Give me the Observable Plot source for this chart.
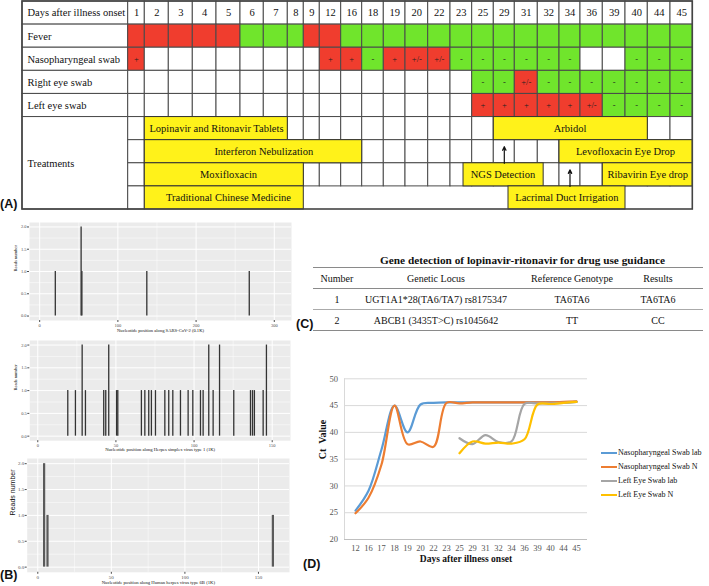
<!DOCTYPE html>
<html><head><meta charset="utf-8">
<script src="https://cdn.jsdelivr.net/npm/d3@7"></script>
<script src="https://cdn.jsdelivr.net/npm/@observablehq/plot@0.6"></script>
<style>
body{margin:0;background:#fff;}
#root{position:relative;width:709px;height:586px;overflow:hidden;font-family:"Liberation Serif","Times New Roman",serif;color:#111;}
.plab{position:absolute;font:bold 12.5px "Liberation Sans",Arial,sans-serif;line-height:1;color:#111;}
#tblC{position:absolute;border-collapse:collapse;table-layout:fixed;font-size:10px;}
#tblC td{text-align:center;padding:0;height:20px;white-space:nowrap;}
#legD{position:absolute;font-size:8px;line-height:14px;}
#legD .it{display:flex;align-items:center;height:14px;}
#legD .ln{width:16px;height:2px;margin-right:1px;}
</style></head><body><div id="root"></div>
<script>
// ---------------- DATA ----------------
// (A) clinical course table
const days = [1,2,3,4,5,6,7,8,9,12,16,18,19,20,22,23,25,29,31,32,34,36,39,40,44,45];
const rowLabels = ["Days after illness onset","Fever","Nasopharyngeal swab","Right eye swab","Left eye swab"];
const treatmentLabel = "Treatments";
const fever    = ["+","+","+","+","+","-","-","-","+","+","-","-","-","-","-","-","-","-","-","-","-","-","-","-","-","-"];
const nasoSwab = ["+","","","","","","","","","+","+","-","+","+/-","+/-","-","-","-","-","-","-","","","-","-","-"];
const rightEye = ["","","","","","","","","","","","","","","","","-","-","+/-","-","-","-","-","-","-","-"];
const leftEye  = ["","","","","","","","","","","","","","","","","+","+","+","+","+","+/-","-","-","-","-"];
const treatNames = ["Lopinavir and Ritonavir Tablets","Interferon Nebulization","Moxifloxacin","Traditional Chinese Medicine","Arbidol","Levofloxacin Eye Drop","NGS Detection","Ribavirin Eye drop","Lacrimal Duct Irrigation"];
const treatLine  = [1,2,3,4,1,2,3,3,4];
const treatFrom  = [2,2,2,2,29,34,23,39,29];
const treatTo    = [7,16,8,8,40,45,32,45,39];
const treatFromPart = [0,0,0,0,0,0,0.6,0,0.7];
const treatToPart   = [1,1,1,1,1,1,0.27,1,1];
const arrowDays  = [29,34];
const arrowLines = [2,3];

// (B) NGS reads
const sarsPos   = [20,53,54,137,268];
const sarsReads = [1,2,1,1,1];
const hsvPos   = [19.2,24.1,28.4,30.5,42.2,43.5,45.4,50.4,51.2,66.3,68.5,71,72.7,75.3,81.3,83.8,86.4,91.3,96.2,99.2,104.1,105.8,109.4,112.2,116.3,125.4,136.1,137.4,138.6,144.2,146.3];
const hsvReads = [1,1,2,1,1,1,2,1,1,1,1,1,1,1,1,1,1,1,1,1,1,1,2,1,2,1,1,1,1,1,2];
const hhvPos   = [4.3,6.6,159.8];
const hhvReads = [2,1,1];

// (C) gene detection table
const cTitle = "Gene detection of lopinavir-ritonavir for drug use guidance";
const cColumns = ["Number","Genetic Locus","Reference Genotype","Results"];
const cNumber = ["1","2"];
const cLocus = ["UGT1A1*28(TA6/TA7) rs8175347","ABCB1 (3435T>C) rs1045642"];
const cReference = ["TA6TA6","TT"];
const cResults = ["TA6TA6","CC"];

// (D) Ct values
const ctDays = ["12","16","17","18","19","20","22","23","25","29","31","32","34","36","39","40","44","45"];
const nasoLab = [25.4,29.1,36.8,45.0,40.0,45.2,45.5,45.6,45.6,45.6,45.6,45.6,45.6,45.6,45.6,45.6,45.6,45.7];
const nasoN   = [24.9,27.8,34.0,45.0,37.8,38.3,37.3,45.5,45.4,45.6,45.6,45.6,45.6,45.6,45.6,45.6,45.7,45.8];
const eyeLab  = [null,null,null,null,null,null,null,null,38.9,37.8,39.5,38.2,38.3,45.3,45.4,45.4,45.5,45.7];
const eyeN    = [null,null,null,null,null,null,null,null,36.1,38.3,37.9,38.1,37.9,38.7,45.2,45.3,45.5,45.7];
const seriesNames = ["Nasopharyngeal Swab lab","Nasopharyngeal Swab N","Left Eye Swab lab","Left Eye Swab N"];
const seriesColors = ["#5b9bd5","#ed7d31","#a5a5a5","#ffc000"];
const ctTicks = [20,25,30,35,40,45,50];

// ---------------- LAYOUT / STYLE ----------------
const RED = "#f03d2e", GREEN = "#70e52c", YELLOW = "#fff21a", GRID = "#4a4a4a";
const colEdges = [22,127.7,144.3,168.3,192.3,216,240,263.3,287.3,303.3,319.3,340.7,361.7,383.3,405,427.7,450,471.7,493.3,514.3,537.3,559,580,602.3,625,647.3,670,692.3];
const root = document.getElementById("root");
function place(el, left, top){ el.style.position="absolute"; el.style.left=left+"px"; el.style.top=top+"px"; root.appendChild(el); return el; }
function label(txt, left, top){ const d=document.createElement("div"); d.className="plab"; d.textContent=txt; place(d,left,top); }

// ---------------- (A) ----------------
const statusRows = [null, fever, nasoSwab, rightEye, leftEye];
const colorOf = s => s === "" ? "white" : (s === "-" ? GREEN : RED);
const cells = [];
rowLabels.forEach((lab, r) => {
  cells.push({x1:0,x2:1,y1:r,y2:r+1,fill:"white",label:lab});
  days.forEach((d,i)=>{
    let fill="white", text="", head=false;
    if (r===0){ text=String(d); head=true; }
    else { const s=statusRows[r][i]; fill=colorOf(s); text = r===1 ? "" : s; }
    cells.push({x1:i+1,x2:i+2,y1:r,y2:r+1,fill,text,head});
  });
});
const tStart = rowLabels.length, nLines = 4;
cells.push({x1:0,x2:1,y1:tStart,y2:tStart+nLines,fill:"white",label:treatmentLabel});
for (let l=0;l<nLines;l++){
  const n = l < nLines-1 ? days.length : 1;
  for (let i=0;i<n;i++) cells.push({x1:i+1,x2:i+2,y1:tStart+l,y2:tStart+l+1,fill:"white",text:""});
}
const col = d => days.indexOf(d) + 1;
const bars = treatNames.map((name,k)=>({name,
  x1: col(treatFrom[k]) + treatFromPart[k], x2: col(treatTo[k]) + treatToPart[k],
  y1: tStart + treatLine[k] - 1, y2: tStart + treatLine[k]}));
const arrows = arrowDays.map((d,k)=>({x: col(d)+0.5, yb: tStart+arrowLines[k], yt: tStart+arrowLines[k]-0.72}));
const outline = [{x1:0, x2:colEdges.length-1, y1:0, y2:tStart+nLines}];

const plotA = Plot.plot({
  width:709, height:212, margin:0,
  x:{type:"linear", domain:d3.range(colEdges.length), range:colEdges, axis:null},
  y:{type:"linear", domain:[0,tStart+nLines], range:[1,209], axis:null},
  color:{type:"identity"},
  style:{fontFamily:'"Liberation Serif","Times New Roman",serif', fontSize:"10.5px", background:"transparent", overflow:"visible"},
  marks:[
    Plot.rect(cells,{x1:"x1",x2:"x2",y1:"y1",y2:"y2",fill:"fill",stroke:GRID,strokeWidth:1}),
    Plot.text(cells.filter(d=>d.label),{x:"x1",y:d=>(d.y1+d.y2)/2,text:"label",textAnchor:"start",dx:5,fill:"#111"}),
    Plot.text(cells.filter(d=>d.head),{x:d=>(d.x1+d.x2)/2,y:d=>(d.y1+d.y2)/2,text:"text",fill:"#111"}),
    Plot.text(cells.filter(d=>!d.head && d.text),{x:d=>(d.x1+d.x2)/2,y:d=>(d.y1+d.y2)/2,text:"text",fontSize:8.5,fill:"#222"}),
    Plot.rect(bars,{x1:"x1",x2:"x2",y1:"y1",y2:"y2",fill:YELLOW,stroke:"#333",strokeWidth:1}),
    Plot.text(bars,{x:d=>(d.x1+d.x2)/2,y:d=>(d.y1+d.y2)/2,text:"name",fill:"#111"}),
    Plot.arrow(arrows,{x1:"x",x2:"x",y1:"yb",y2:"yt",stroke:"#111",strokeWidth:1.2,headLength:5,headAngle:50}),
    Plot.rect(outline,{x1:"x1",x2:"x2",y1:"y1",y2:"y2",fill:"none",stroke:"#444",strokeWidth:1.6})
  ]
});
place(plotA,0,0);
label("(A)",0,198);

// ---------------- (B) ----------------
function ngsPlot(pos, reads, o){
  const data = pos.map((p,i)=>({p, r:reads[i]}));
  return Plot.plot({
    width:o.width, height:o.height, marginLeft:o.ml, marginRight:o.mr, marginTop:4, marginBottom:o.mb,
    x:{domain:o.xdom}, y:{domain:[-0.1,2.1]},
    style:{fontFamily:'"Liberation Serif","Times New Roman",serif', background:"transparent"},
    marks:[
      Plot.frame({fill:"#ebebeb", stroke:null}),
      Plot.gridX(o.xminor,{stroke:"white",strokeOpacity:1,strokeWidth:0.5}),
      Plot.gridY([0.25,0.75,1.25,1.75],{stroke:"white",strokeOpacity:1,strokeWidth:0.5}),
      Plot.gridX(o.xmajor,{stroke:"white",strokeOpacity:1,strokeWidth:1}),
      Plot.gridY([0,0.5,1,1.5,2],{stroke:"white",strokeOpacity:1,strokeWidth:1}),
      Plot.ruleX(data,{x:"p",y1:0,y2:"r",stroke:o.bar,strokeWidth:o.bw}),
      Plot.axisX(o.xmajor,{tickSize:2,tickPadding:1,fontSize:o.fs,color:"#4d4d4d",label:null}),
      Plot.axisY([0,0.5,1,1.5,2],{tickSize:2,tickPadding:1,fontSize:o.fs,color:"#4d4d4d",tickFormat:d=>d.toFixed(1),label:null}),
      Plot.text([o.xlabel],{frameAnchor:"bottom",dy:o.xdy,fontSize:o.tfs,fill:"#111"}),
      Plot.text(["Reads number"],{frameAnchor:"left",rotate:-90,dx:o.ydx,fontSize:o.yfs,fill:"#111",fontFamily:o.yff})
    ]
  });
}
place(ngsPlot(sarsPos,sarsReads,{width:295,height:118,ml:29,mr:4,mb:16,xdom:[-13,322],xmajor:[0,100,200,300],xminor:[50,150,250],bar:"#333",bw:1.3,fs:4.5,tfs:4.6,xdy:11,ydx:-14,yfs:4.6,yff:null,xlabel:"Nucleotide position along SARS-CoV-2 (0.1K)"}),0,218);
place(ngsPlot(hsvPos,hsvReads,{width:295,height:120,ml:29.3,mr:5,mb:15.8,xdom:[-5.1,161.7],xmajor:[0,50,100,150],xminor:[25,75,125],bar:"#333",bw:1.3,fs:4.5,tfs:4.6,xdy:10,ydx:-14,yfs:4.6,yff:null,xlabel:"Nucleotide position along Herpes simplex virus type 1 (1K)"}),0,336);
place(ngsPlot(hhvPos,hhvReads,{width:295,height:132,ml:26.7,mr:6,mb:14.2,xdom:[-7.2,171.1],xmajor:[0,50,100,150],xminor:[25,75,125],bar:"#5a5a5a",bw:2.2,fs:5,tfs:4.7,xdy:11.2,ydx:-14.4,yfs:7,yff:'"Liberation Sans",Arial,sans-serif',xlabel:"Nucleotide position along Human herpes virus type 6B (1K)"}),0,454);
label("(B)",0,569);

// ---------------- (C) ----------------
const tDiv = document.createElement("div");
tDiv.textContent = cTitle;
tDiv.style.cssText = "width:419px;text-align:center;font-weight:bold;font-size:11.3px;line-height:1;";
place(tDiv,313,255);
const tbl = document.createElement("table");
tbl.id = "tblC";
const widths = [48,150,122,50,20];
const cg = document.createElement("colgroup");
widths.forEach(w=>{const c=document.createElement("col"); c.style.width=w+"px"; cg.appendChild(c);});
tbl.appendChild(cg);
tbl.style.width = d3.sum(widths)+"px";
const allRows = [cColumns, ...cNumber.map((n,i)=>[n,cLocus[i],cReference[i],cResults[i]])];
allRows.forEach((r,ri)=>{
  const tr=document.createElement("tr");
  [...r,""].forEach(v=>{const td=document.createElement("td"); td.textContent=v;
    td.style.borderTop = ri===0 ? "1.6px solid #8a8a8a" : (ri===1 ? "1.6px solid #8a8a8a" : "1px solid #aaa");
    if (ri===allRows.length-1) td.style.borderBottom="1.6px solid #8a8a8a";
    tr.appendChild(td);});
  tbl.appendChild(tr);
});
place(tbl,313,267);
label("(C)",296,318);

// ---------------- (D) ----------------
const ctSeries = [nasoLab,nasoN,eyeLab,eyeN];
const ctRows = [];
ctSeries.forEach((vals,s)=>vals.forEach((v,i)=>{ if (v!=null) ctRows.push({day:ctDays[i], value:v, series:seriesNames[s]}); }));
const plotD = Plot.plot({
  width:409, height:210, marginLeft:44, marginRight:122, marginTop:13.3, marginBottom:36,
  x:{type:"point", domain:ctDays, padding:0.5},
  y:{domain:[ctTicks[0], ctTicks[ctTicks.length-1]]},
  color:{domain:seriesNames, range:seriesColors},
  style:{fontFamily:'"Liberation Serif","Times New Roman",serif', background:"transparent"},
  marks:[
    Plot.gridY(ctTicks,{stroke:"#d9d9d9",strokeOpacity:1,strokeWidth:1}),
    Plot.frame({anchor:"left",stroke:"#d9d9d9"}),
    Plot.ruleY([ctTicks[0]],{stroke:"#bfbfbf",strokeWidth:1}),
    Plot.axisX({tickSize:0,tickPadding:5,fontSize:8.5,color:"#555",label:null}),
    Plot.axisY(ctTicks,{tickSize:0,tickPadding:6.5,fontSize:8.5,color:"#555",label:null}),
    Plot.line(ctRows,{x:"day",y:"value",z:"series",stroke:"series",strokeWidth:2.2,curve:"catmull-rom"}),
    Plot.text(["Days after illness onset"],{frameAnchor:"bottom",dy:22,fontSize:9.5,fontWeight:"bold",fill:"#111"}),
    Plot.text(["Ct  Value"],{frameAnchor:"left",rotate:-90,dx:-22,fontSize:10,fontWeight:"bold",fill:"#111"})
  ]
});
place(plotD,300,365);
const leg = document.createElement("div");
leg.id = "legD";
seriesNames.forEach((n,i)=>{
  const it=document.createElement("div"); it.className="it";
  const ln=document.createElement("div"); ln.className="ln"; ln.style.background=seriesColors[i];
  const tx=document.createElement("span"); tx.textContent=n;
  it.appendChild(ln); it.appendChild(tx); leg.appendChild(it);
});
place(leg,601,446);
label("(D)",303,558);
</script></body></html>
